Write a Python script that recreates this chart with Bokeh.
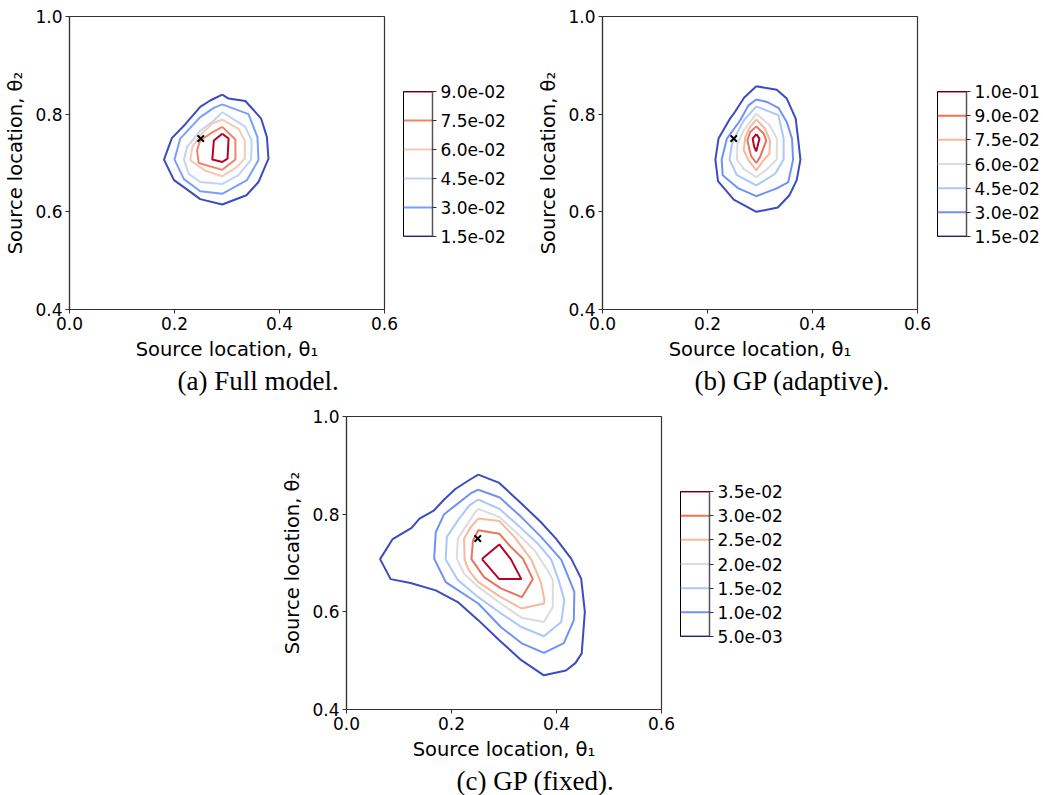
from bokeh.plotting import figure
from bokeh.models import Range1d, FixedTicker, Spacer, Title, PrintfTickFormatter
from bokeh.layouts import row, column
from bokeh.embed import file_html
from bokeh.resources import INLINE

# ---------------- data ----------------
TRUE_SOURCE_X = [0.25]
TRUE_SOURCE_Y = [0.75]

X_TICKS = [0.0, 0.2, 0.4, 0.6]
Y_TICKS = [0.4, 0.6, 0.8, 1.0]

# (a) Full model
A_LEVELS = ["1.5e-02", "3.0e-02", "4.5e-02", "6.0e-02", "7.5e-02", "9.0e-02"]
A_X = [
    [0.291, 0.303, 0.335, 0.365, 0.376, 0.379, 0.360, 0.337, 0.291, 0.249, 0.221, 0.199, 0.180, 0.195, 0.221, 0.249, 0.268],
    [0.291, 0.341, 0.358, 0.360, 0.338, 0.291, 0.249, 0.218, 0.200, 0.211, 0.249, 0.275],
    [0.291, 0.335, 0.347, 0.346, 0.322, 0.291, 0.249, 0.227, 0.218, 0.224, 0.249, 0.275],
    [0.291, 0.322, 0.334, 0.334, 0.318, 0.291, 0.259, 0.230, 0.234, 0.249, 0.272],
    [0.291, 0.316, 0.316, 0.291, 0.246, 0.243, 0.249, 0.268],
    [0.291, 0.303, 0.301, 0.291, 0.272, 0.275],
]
A_Y = [
    [0.840, 0.832, 0.827, 0.791, 0.753, 0.709, 0.661, 0.634, 0.615, 0.626, 0.648, 0.665, 0.707, 0.751, 0.780, 0.815, 0.828],
    [0.820, 0.800, 0.753, 0.706, 0.665, 0.637, 0.642, 0.667, 0.707, 0.750, 0.794, 0.813],
    [0.804, 0.774, 0.746, 0.707, 0.675, 0.657, 0.661, 0.678, 0.707, 0.733, 0.766, 0.787],
    [0.789, 0.770, 0.746, 0.709, 0.691, 0.673, 0.684, 0.706, 0.733, 0.757, 0.781],
    [0.774, 0.748, 0.707, 0.686, 0.700, 0.726, 0.746, 0.760],
    [0.760, 0.750, 0.709, 0.702, 0.707, 0.746],
]

# (b) GP (adaptive)
B_LEVELS = ["1.5e-02", "3.0e-02", "4.5e-02", "6.0e-02", "7.5e-02", "9.0e-02", "1.0e-01"]
B_X = [
    [0.293, 0.332, 0.351, 0.368, 0.373, 0.377, 0.370, 0.356, 0.334, 0.293, 0.250, 0.220, 0.215, 0.221, 0.243, 0.250, 0.270],
    [0.293, 0.313, 0.335, 0.351, 0.361, 0.363, 0.354, 0.332, 0.293, 0.259, 0.229, 0.227, 0.237, 0.262, 0.278],
    [0.293, 0.335, 0.345, 0.345, 0.329, 0.293, 0.256, 0.242, 0.246, 0.252, 0.269],
    [0.293, 0.319, 0.332, 0.332, 0.314, 0.293, 0.269, 0.256, 0.257, 0.269],
    [0.293, 0.310, 0.319, 0.318, 0.307, 0.293, 0.278, 0.269, 0.272, 0.281],
    [0.293, 0.307, 0.312, 0.300, 0.293, 0.283, 0.276, 0.281],
    [0.293, 0.299, 0.295, 0.293, 0.289, 0.286],
]
B_Y = [
    [0.857, 0.850, 0.832, 0.791, 0.746, 0.707, 0.665, 0.634, 0.609, 0.600, 0.625, 0.663, 0.707, 0.750, 0.791, 0.801, 0.834],
    [0.830, 0.825, 0.813, 0.784, 0.750, 0.707, 0.661, 0.648, 0.632, 0.648, 0.675, 0.707, 0.750, 0.787, 0.818],
    [0.816, 0.798, 0.750, 0.707, 0.678, 0.654, 0.675, 0.707, 0.736, 0.752, 0.787],
    [0.801, 0.777, 0.750, 0.707, 0.688, 0.671, 0.688, 0.707, 0.740, 0.767],
    [0.789, 0.770, 0.746, 0.719, 0.706, 0.685, 0.706, 0.726, 0.753, 0.774],
    [0.775, 0.760, 0.746, 0.712, 0.700, 0.714, 0.746, 0.763],
    [0.759, 0.750, 0.733, 0.724, 0.733, 0.750],
]

# (c) GP (fixed)
C_LEVELS = ["5.0e-03", "1.0e-02", "1.5e-02", "2.0e-02", "2.5e-02", "3.0e-02", "3.5e-02"]
C_X = [
    [0.251, 0.291, 0.330, 0.370, 0.399, 0.428, 0.447, 0.454, 0.448, 0.436, 0.418, 0.376, 0.333, 0.291, 0.251, 0.212, 0.170, 0.122, 0.084, 0.064, 0.088, 0.124, 0.139, 0.167, 0.186, 0.208, 0.237],
    [0.251, 0.292, 0.333, 0.371, 0.409, 0.425, 0.434, 0.433, 0.414, 0.376, 0.333, 0.294, 0.251, 0.189, 0.167, 0.170, 0.186, 0.210, 0.237],
    [0.251, 0.291, 0.329, 0.364, 0.390, 0.404, 0.415, 0.409, 0.376, 0.333, 0.294, 0.251, 0.212, 0.189, 0.191, 0.212, 0.234],
    [0.251, 0.291, 0.326, 0.358, 0.383, 0.393, 0.393, 0.376, 0.333, 0.294, 0.251, 0.224, 0.210, 0.212, 0.231, 0.243],
    [0.251, 0.291, 0.320, 0.352, 0.371, 0.377, 0.376, 0.333, 0.294, 0.251, 0.233, 0.225, 0.224, 0.237],
    [0.251, 0.291, 0.313, 0.336, 0.355, 0.334, 0.294, 0.262, 0.238, 0.241],
    [0.258, 0.291, 0.313, 0.333, 0.291],
]
C_Y = [
    [0.881, 0.864, 0.825, 0.784, 0.750, 0.709, 0.668, 0.600, 0.515, 0.495, 0.480, 0.470, 0.501, 0.542, 0.583, 0.620, 0.644, 0.659, 0.667, 0.708, 0.749, 0.772, 0.791, 0.808, 0.830, 0.852, 0.872],
    [0.850, 0.834, 0.794, 0.753, 0.707, 0.665, 0.641, 0.583, 0.536, 0.516, 0.536, 0.569, 0.617, 0.661, 0.709, 0.763, 0.800, 0.820, 0.843],
    [0.830, 0.811, 0.775, 0.740, 0.707, 0.665, 0.624, 0.579, 0.550, 0.569, 0.597, 0.630, 0.665, 0.707, 0.753, 0.787, 0.818],
    [0.811, 0.794, 0.760, 0.726, 0.685, 0.665, 0.610, 0.579, 0.588, 0.617, 0.651, 0.678, 0.709, 0.750, 0.781, 0.801],
    [0.791, 0.786, 0.753, 0.707, 0.658, 0.624, 0.617, 0.607, 0.630, 0.661, 0.685, 0.707, 0.750, 0.774],
    [0.767, 0.760, 0.733, 0.709, 0.667, 0.630, 0.648, 0.671, 0.708, 0.746],
    [0.708, 0.738, 0.708, 0.667, 0.667],
]

# coolwarm colours sampled at the contour levels
COLORS_6 = ["#3b4cc0", "#7b9ef9", "#c0d4f5", "#f2cab7", "#ee8568", "#b40426"]
COLORS_7 = ["#3b4cc0", "#7092f3", "#aac7fd", "#dddcdc", "#f7b89c", "#e7755c", "#b40426"]

FONT = "DejaVu Sans"
SERIF = "Liberation Serif"

TOP = 16
BOTTOM_1 = 91
BOTTOM_2 = 86


def closed(seq):
    return list(seq) + [seq[0]]


def main_fig(xs, ys, colors, caption, cap_offset, bottom, right=19):
    p = figure(frame_width=315, frame_height=293,
               x_range=Range1d(X_TICKS[0], X_TICKS[-1]),
               y_range=Range1d(Y_TICKS[0], Y_TICKS[-1]),
               min_border_left=69, min_border_right=right,
               min_border_top=TOP, min_border_bottom=bottom,
               output_backend="svg", toolbar_location=None,
               background_fill_color="white", border_fill_color="white")
    p.grid.visible = False
    p.outline_line_color = "#333333"
    p.outline_line_width = 1.2
    p.xaxis.ticker = FixedTicker(ticks=X_TICKS)
    p.yaxis.ticker = FixedTicker(ticks=Y_TICKS)
    p.axis.formatter = PrintfTickFormatter(format="%.1f")
    p.axis.minor_tick_line_color = None
    p.axis.major_tick_in = 0
    p.axis.major_tick_out = 4
    p.axis.major_tick_line_color = "#333333"
    p.axis.axis_line_color = "#333333"
    p.axis.axis_line_width = 1.2
    p.axis.major_label_text_font = FONT
    p.axis.major_label_text_font_size = "17px"
    p.axis.major_label_text_color = "black"
    p.axis.major_label_standoff = 3
    p.axis.axis_label_text_font = FONT
    p.axis.axis_label_text_font_size = "19.5px"
    p.axis.axis_label_text_font_style = "normal"
    p.axis.axis_label_text_color = "black"
    p.axis.axis_label_standoff = 5
    p.xaxis.axis_label = "Source location, θ₁"
    p.yaxis.axis_label = "Source location, θ₂"
    p.multi_line(xs=[closed(x) for x in xs], ys=[closed(y) for y in ys],
                 line_color=colors[:len(xs)], line_width=2)
    p.scatter(x=TRUE_SOURCE_X, y=TRUE_SOURCE_Y, marker="x", size=9,
              line_color="black", line_width=2)
    p.add_layout(Title(text=caption, align="left", offset=cap_offset,
                       text_font=SERIF, text_font_size="27px",
                       text_font_style="normal", text_color="black",
                       standoff=0), "below")
    return p


def cbar(labels, colors, right, bottom):
    n = len(labels)
    p = figure(frame_width=29, frame_height=145,
               x_range=Range1d(0, 1), y_range=Range1d(0, n - 1),
               min_border_left=0, min_border_right=right,
               min_border_top=TOP, min_border_bottom=bottom,
               x_axis_location=None, y_axis_location="right",
               output_backend="svg", toolbar_location=None,
               background_fill_color="white", border_fill_color="white")
    p.grid.visible = False
    p.outline_line_color = "black"
    p.outline_line_width = 1
    p.yaxis.ticker = FixedTicker(ticks=list(range(n)))
    p.yaxis.major_label_overrides = {i: lab for i, lab in enumerate(labels)}
    p.yaxis.minor_tick_line_color = None
    p.yaxis.major_tick_in = 0
    p.yaxis.major_tick_out = 4
    p.yaxis.major_tick_line_color = "#333333"
    p.yaxis.axis_line_color = "#555555"
    p.yaxis.axis_line_width = 1.5
    p.yaxis.major_label_text_font = FONT
    p.yaxis.major_label_text_font_size = "17px"
    p.yaxis.major_label_text_color = "black"
    p.yaxis.major_label_standoff = 4
    p.multi_line(xs=[[0, 1] for _ in range(n)], ys=[[i, i] for i in range(n)],
                 line_color=colors[:n], line_width=2)
    return column(Spacer(width=10, height=75), p)


fa = main_fig(A_X, A_Y, COLORS_6, "(a) Full model.", 108, BOTTOM_1)
ca = cbar(A_LEVELS, COLORS_6, 101, BOTTOM_1)
fb = main_fig(B_X, B_Y, COLORS_7, "(b) GP (adaptive).", 92, BOTTOM_1, right=20)
cb = cbar(B_LEVELS, COLORS_7, 76, BOTTOM_1)
fc = main_fig(C_X, C_Y, COLORS_7, "(c) GP (fixed).", 110, BOTTOM_2)
cc = cbar(C_LEVELS, COLORS_7, 101, BOTTOM_2)

layout = column(row(fa, ca, fb, cb), row(Spacer(width=277, height=10), fc, cc))

open("out.html", "w").write(file_html(layout, INLINE))
